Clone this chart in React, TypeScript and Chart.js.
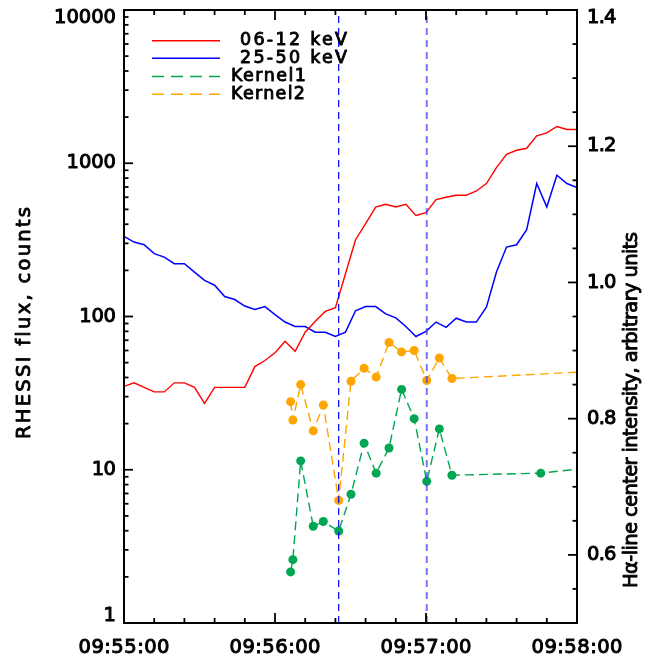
import React, { useEffect, useRef } from 'react';
import { Chart, registerables } from 'chart.js';

Chart.register(...registerables);

// ---- data (seconds after 09:55:00) ----
const fluxTimes = [0, 4, 8, 12, 16, 20, 24, 28, 32, 36, 40, 44, 48, 52, 56, 60, 64, 68, 72, 76, 80, 84, 88, 92, 96, 100, 104, 108, 112, 116, 120, 124, 128, 132, 136, 140, 144, 148, 152, 156, 160, 164, 168, 172, 176, 180];
const flux0612 = [35, 36.9, 34.5, 32.2, 32.2, 36.9, 36.9, 34.5, 27.1, 34.5, 34.5, 34.5, 34.5, 47.1, 51.6, 58, 69, 59.3, 79, 93, 108, 114, 190, 317, 404, 518, 540, 518, 540, 457, 476, 579, 600, 618, 618, 659, 737, 937, 1145, 1216, 1253, 1508, 1578, 1738, 1660, 1660];
const flux2550 = [333, 306, 294, 257, 244, 221, 221, 195, 172, 160, 135, 129, 117, 111, 116, 103, 92, 86, 86, 79, 79, 74, 79, 109, 116, 116, 104, 98, 86, 74, 80, 92, 85, 97.5, 92, 92, 115, 195, 284, 294, 369, 737, 518, 835, 737, 694];

const kernel1Times = [66.2, 67.1, 70.2, 75.2, 79.2, 85.3, 90.2, 95.4, 100.2, 105.3, 110.3, 115.3, 120.3, 125.3, 130.3, 165.6, 195];
const kernel1 = [0.575, 0.593, 0.738, 0.642, 0.649, 0.635, 0.689, 0.764, 0.72, 0.757, 0.843, 0.8, 0.708, 0.785, 0.717, 0.72, 0.732];
const kernel2Times = [66.2, 67.1, 70.2, 75.2, 79.2, 85.3, 90.2, 95.4, 100.2, 105.3, 110.3, 115.3, 120.3, 125.3, 130.3, 195];
const kernel2 = [0.825, 0.798, 0.85, 0.782, 0.82, 0.68, 0.855, 0.874, 0.861, 0.912, 0.898, 0.9, 0.856, 0.889, 0.859, 0.871];

const markerTimes = [85.3, 120.3];

const seriesLabels = ['06-12 keV', '25-50 keV', 'Kernel1', 'Kernel2'];
const seriesColors = ['#ff0000', '#0000ff', '#00a651', '#ffa500'];

const xMajorTicks = [0, 60, 120, 180];
const xTickLabels = ['09:55:00', '09:56:00', '09:57:00', '09:58:00'];
const xMinorTicks = [12, 24, 36, 48, 72, 84, 96, 108, 132, 144, 156, 168];
const yMajorTicks = [1, 10, 100, 1000, 10000];
const yTickLabels = ['1', '10', '100', '1000', '10000'];
const y2MajorTicks = [0.6, 0.8, 1.0, 1.2, 1.4];
const y2TickLabels = ['0.6', '0.8', '1.0', '1.2', '1.4'];
const y2MinorTicks = [0.5, 0.55, 0.65, 0.7, 0.75, 0.85, 0.9, 0.95, 1.05, 1.1, 1.15, 1.25, 1.3, 1.35];

const leftTitle = 'RHESSI flux, counts';
const rightTitle = 'H\u03b1-line center intensity, arbitrary units';

const FONT = '"DejaVu Sans", sans-serif';

function drawFit(ctx: CanvasRenderingContext2D, text: string, x: number, y: number, size: number, align: 'left' | 'center' | 'right', target?: number, stroke = 1.0) {
  ctx.save();
  ctx.font = `${size}px ${FONT}`;
  (ctx as any).letterSpacing = '0px';
  const w = ctx.measureText(text).width;
  let sp = 0;
  if (target && text.length > 1) sp = (target - w) / (text.length - 1);
  const total = w + sp * (text.length - 1);
  let sx = x;
  if (align === 'center') sx = x - total / 2;
  else if (align === 'right') sx = x - total;
  (ctx as any).letterSpacing = `${sp}px`;
  ctx.textAlign = 'left';
  ctx.textBaseline = 'middle';
  ctx.fillStyle = '#000';
  ctx.strokeStyle = '#000';
  ctx.lineWidth = stroke;
  ctx.lineJoin = 'round';
  ctx.fillText(text, sx, y);
  if (stroke > 0) ctx.strokeText(text, sx, y);
  ctx.restore();
}

const axesPlugin = {
  id: 'idlAxes',
  afterDraw(chart: any) {
    const ctx: CanvasRenderingContext2D = chart.ctx;
    const { left, right, top, bottom } = chart.chartArea;
    const xs = chart.scales.x;
    const ys = chart.scales.y;
    const y2 = chart.scales.y2;
    ctx.save();
    ctx.strokeStyle = '#000';
    ctx.lineWidth = 2;
    ctx.strokeRect(left, top, right - left, bottom - top);

    const tick = (x1: number, y1: number, x2: number, y2p: number) => {
      ctx.beginPath();
      ctx.moveTo(x1, y1);
      ctx.lineTo(x2, y2p);
      ctx.stroke();
    };
    ctx.lineWidth = 1.8;
    xMajorTicks.forEach((v) => {
      const px = xs.getPixelForValue(v);
      tick(px, bottom, px, bottom - 10);
      tick(px, top, px, top + 10);
    });
    xMinorTicks.forEach((v) => {
      const px = xs.getPixelForValue(v);
      tick(px, bottom, px, bottom - 5);
      tick(px, top, px, top + 5);
    });
    yMajorTicks.forEach((v) => {
      const py = ys.getPixelForValue(v);
      tick(left, py, left + 9, py);
    });
    yMajorTicks.slice(0, -1).forEach((d) => {
      for (let m = 2; m <= 9; m++) {
        const py = ys.getPixelForValue(d * m);
        tick(left, py, left + 4.5, py);
      }
    });
    y2MajorTicks.forEach((v) => {
      const py = y2.getPixelForValue(v);
      tick(right, py, right - 9, py);
    });
    y2MinorTicks.forEach((v) => {
      const py = y2.getPixelForValue(v);
      tick(right, py, right - 4.5, py);
    });
    ctx.restore();

    // tick labels
    xMajorTicks.forEach((v, i) => {
      drawFit(ctx, xTickLabels[i], xs.getPixelForValue(v), 648, 19.5, 'center', 91);
    });
    yMajorTicks.forEach((v, i) => {
      let py = ys.getPixelForValue(v);
      py = Math.min(Math.max(py, top + 8), bottom - 7);
      drawFit(ctx, yTickLabels[i], left - 8, py, 19.5, 'right', yTickLabels[i].length * 12.6 - 1);
    });
    y2MajorTicks.forEach((v, i) => {
      let py = y2.getPixelForValue(v);
      py = Math.min(Math.max(py, top + 8), bottom - 7);
      drawFit(ctx, y2TickLabels[i], right + 10, py, 19.5, 'left', 29.5);
    });

    // axis titles
    ctx.save();
    ctx.translate(25, 323);
    ctx.rotate(-Math.PI / 2);
    drawFit(ctx, leftTitle, 0, 0, 19.5, 'center', 232, 0.9);
    ctx.restore();
    ctx.save();
    ctx.translate(632, 410);
    ctx.rotate(-Math.PI / 2);
    drawFit(ctx, rightTitle, 0, 0, 19.5, 'center', 356, 0.9);
    ctx.restore();

    // legend
    const legY = [40.7, 58.3, 76.5, 94.2];
    const legTextX = [240, 240, 231, 231];
    const legW = [107, 107, 75, 74];
    seriesLabels.forEach((lab, i) => {
      ctx.save();
      ctx.strokeStyle = seriesColors[i];
      ctx.lineWidth = 1.6;
      if (i >= 2) ctx.setLineDash([12, 7]);
      ctx.beginPath();
      ctx.moveTo(152, legY[i]);
      ctx.lineTo(220, legY[i]);
      ctx.stroke();
      ctx.restore();
      drawFit(ctx, lab, legTextX[i], legY[i], 17.5, 'left', legW[i], 0.9);
    });
  },
};

export default function App() {
  const ref = useRef<HTMLCanvasElement>(null);
  useEffect(() => {
    if (!ref.current) return;
    const chart = new Chart(ref.current, {
      type: 'line',
      data: {
        datasets: [
          {
            label: 'marker1',
            data: [{ x: markerTimes[0], y: 0.5 }, { x: markerTimes[0], y: 1.4 }],
            borderColor: '#0000ff',
            borderWidth: 1.2,
            borderDash: [7, 5],
            pointRadius: 0,
            yAxisID: 'y2',
          },
          {
            label: 'marker2',
            data: [{ x: markerTimes[1], y: 0.5 }, { x: markerTimes[1], y: 1.4 }],
            borderColor: 'rgba(60,60,255,0.7)',
            borderWidth: 2,
            borderDash: [7, 5],
            pointRadius: 0,
            yAxisID: 'y2',
          },
          {
            label: seriesLabels[2],
            data: kernel1Times.map((t, i) => ({ x: t, y: kernel1[i] })),
            borderColor: seriesColors[2],
            backgroundColor: seriesColors[2],
            borderWidth: 1.4,
            borderDash: [9, 5],
            pointRadius: 4.5,
            pointBorderWidth: 0,
            pointBackgroundColor: seriesColors[2],
            yAxisID: 'y2',
          },
          {
            label: seriesLabels[3],
            data: kernel2Times.map((t, i) => ({ x: t, y: kernel2[i] })),
            borderColor: seriesColors[3],
            backgroundColor: seriesColors[3],
            borderWidth: 1.4,
            borderDash: [9, 5],
            pointRadius: 4.5,
            pointBorderWidth: 0,
            pointBackgroundColor: seriesColors[3],
            yAxisID: 'y2',
          },
          {
            label: seriesLabels[0],
            data: fluxTimes.map((t, i) => ({ x: t, y: flux0612[i] })),
            borderColor: seriesColors[0],
            borderWidth: 1.4,
            pointRadius: 0,
            yAxisID: 'y',
          },
          {
            label: seriesLabels[1],
            data: fluxTimes.map((t, i) => ({ x: t, y: flux2550[i] })),
            borderColor: seriesColors[1],
            borderWidth: 1.5,
            pointRadius: 0,
            yAxisID: 'y',
          },
        ],
      },
      options: {
        responsive: false,
        animation: false,
        devicePixelRatio: 1,
        layout: { padding: { left: 124, right: 79, top: 10, bottom: 38 } },
        elements: { line: { tension: 0 } },
        plugins: { legend: { display: false }, tooltip: { enabled: false } },
        scales: {
          x: { type: 'linear', min: 0, max: 180, display: false },
          y: { type: 'logarithmic', min: 1, max: 10000, display: false, position: 'left' },
          y2: { type: 'linear', min: 0.5, max: 1.4, display: false, position: 'right' },
        },
      },
      plugins: [axesPlugin],
    } as any);
    return () => chart.destroy();
  }, []);
  return (
    <div style={{ position: 'absolute', left: 0, top: 0, width: 656, height: 661 }}>
      <canvas ref={ref} width={656} height={661} style={{ display: 'block' }} />
    </div>
  );
}
